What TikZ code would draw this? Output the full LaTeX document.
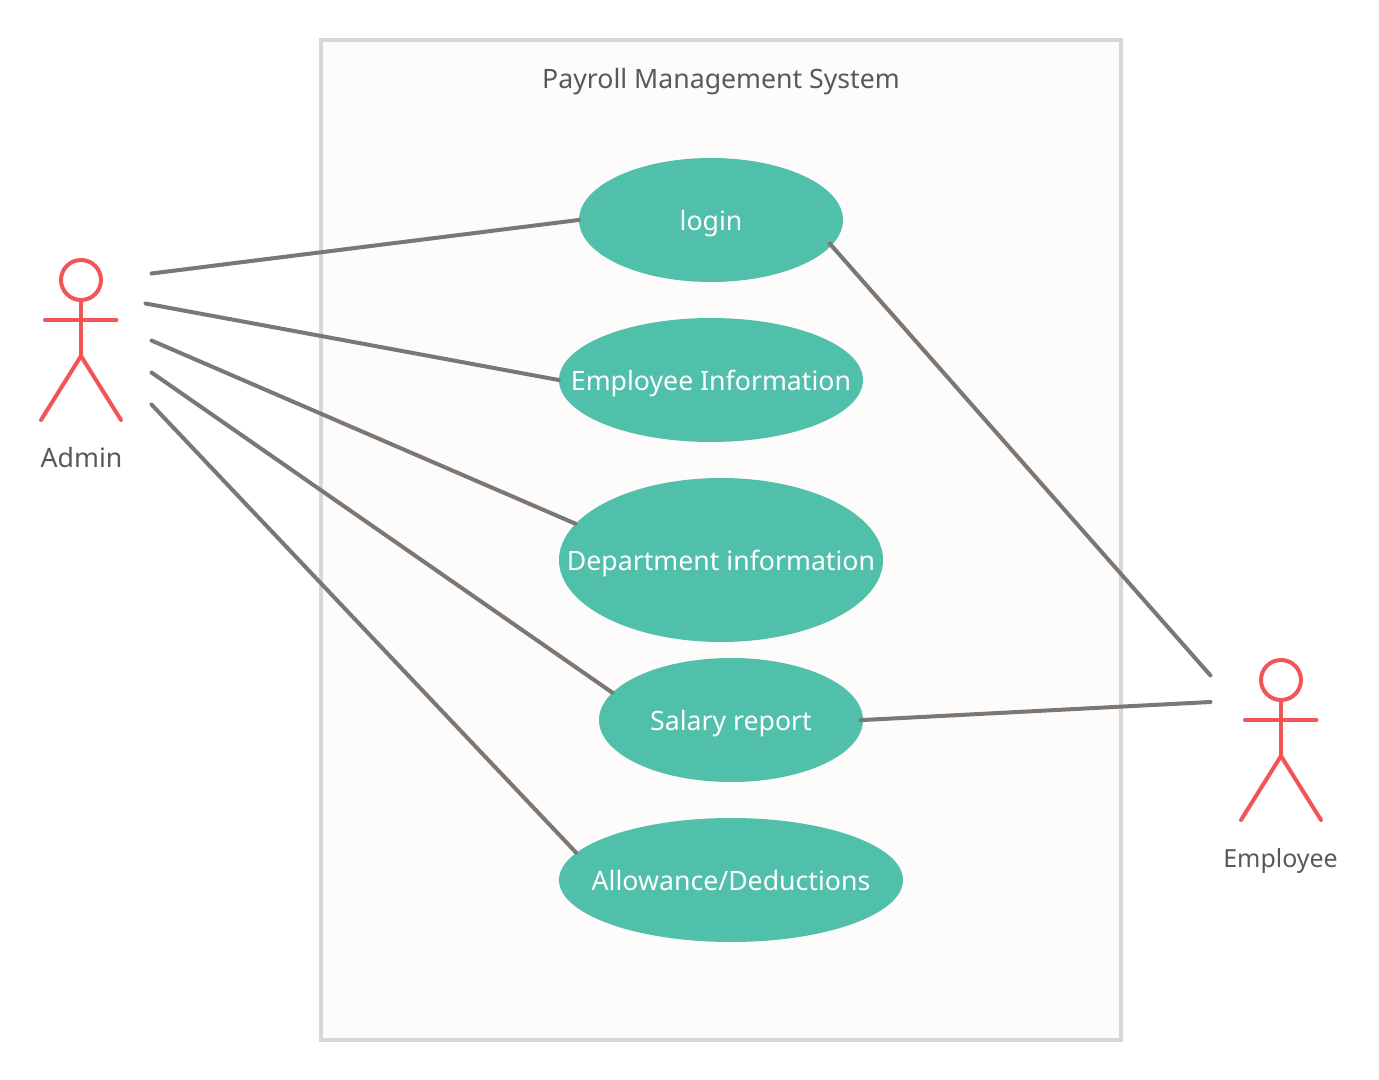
\documentclass[tikz,border=0pt]{standalone}
\usepackage{fontspec}
\setmainfont{Noto Sans}
\usetikzlibrary{shapes.geometric}
\definecolor{boxfill}{HTML}{FDFCFB}
\definecolor{boxline}{HTML}{D7D7D7}
\definecolor{teal}{HTML}{50C0AA}
\definecolor{conn}{HTML}{7A7775}
\definecolor{actor}{HTML}{F25555}
\definecolor{labeltext}{HTML}{595959}
\tikzset{
  x=0.75pt,y=-0.75pt,
  sysbox/.style={draw=boxline,fill=boxfill,line width=3pt,rectangle,inner sep=0pt,minimum width=600pt,minimum height=750pt},
  usecase/.style={ellipse,fill=teal,text=white,inner sep=0pt,text height=16pt,text depth=0pt,font=\fontsize{20}{24}\selectfont},
  link/.style={draw=conn,line width=3pt,line cap=round},
  stick/.style={draw=actor,line width=3pt,line cap=round,line join=round},
  head/.style={circle,draw=actor,line width=3pt,inner sep=0pt,minimum size=30pt},
  caption/.style={text=labeltext,inner sep=0pt,text height=15pt,text depth=0pt,font=\fontsize{20}{24}\selectfont},
}
\begin{document}
\begin{tikzpicture}
\useasboundingbox (0,0) rectangle (1379,1080);
\node[sysbox] (system) at (721,540) {};
\node[caption] (title) at (721,79) {Payroll Management System};
\node[usecase,minimum width=198pt,minimum height=93pt] (login) at (711,220) {\makebox[0pt]{login}};
\node[usecase,minimum width=228pt,minimum height=93pt] (info) at (711,380) {\makebox[0pt]{Employee Information}};
\node[usecase,minimum width=243pt,minimum height=123pt] (dept) at (721,560) {\makebox[0pt]{Department information}};
\node[usecase,minimum width=198pt,minimum height=93pt] (salary) at (731,720) {\makebox[0pt]{Salary report}};
\node[usecase,minimum width=258pt,minimum height=93pt] (allow) at (731,880) {\makebox[0pt]{Allowance/Deductions}};
% Admin actor
\node[head] (adminhead) at (81,280) {};
\coordinate (adminhip) at (81,356);
\coordinate (adminarmL) at (45,320);
\coordinate (adminarmR) at (116.5,320);
\coordinate (adminfootL) at (41,420);
\coordinate (adminfootR) at (121,420);
\draw[stick] (adminhead.south) -- (adminhip);
\draw[stick] (adminarmL) -- (adminarmR);
\draw[stick] (adminfootL) -- (adminhip) -- (adminfootR);
\node[caption] (adminlabel) at (81.5,458) {Admin};
% Employee actor
\node[head] (emphead) at (1281,680) {};
\coordinate (emphip) at (1281,756);
\coordinate (emparmL) at (1245,720);
\coordinate (emparmR) at (1316.5,720);
\coordinate (empfootL) at (1241,820);
\coordinate (empfootR) at (1321,820);
\draw[stick] (emphead.south) -- (emphip);
\draw[stick] (emparmL) -- (emparmR);
\draw[stick] (empfootL) -- (emphip) -- (empfootR);
\node[caption,font=\fontsize{18.7}{22}\selectfont] (emplabel) at (1280.5,857.5) {Employee};
% connector ends
\coordinate (a1) at (151.5,273.5);
\coordinate (a2) at (145.5,303.5);
\coordinate (a3) at (151.5,340.5);
\coordinate (a4) at (151.5,372.5);
\coordinate (a5) at (151.5,404.5);
\coordinate (e1) at (1210.5,675.5);
\coordinate (e2) at (1210.5,702);
\draw[link] (a1) -- (login.west);
\draw[link] (a2) -- (info.west);
\draw[link] (a3) -- (dept.166.6);
\draw[link] (a4) -- (salary.167.5);
\draw[link] (a5) -- (allow.170.7);
\draw[link,shorten <=-2pt] (login.-12.4) -- (e1);
\draw[link,shorten <=-2pt] (salary.east) -- (e2);
\end{tikzpicture}
\end{document}
